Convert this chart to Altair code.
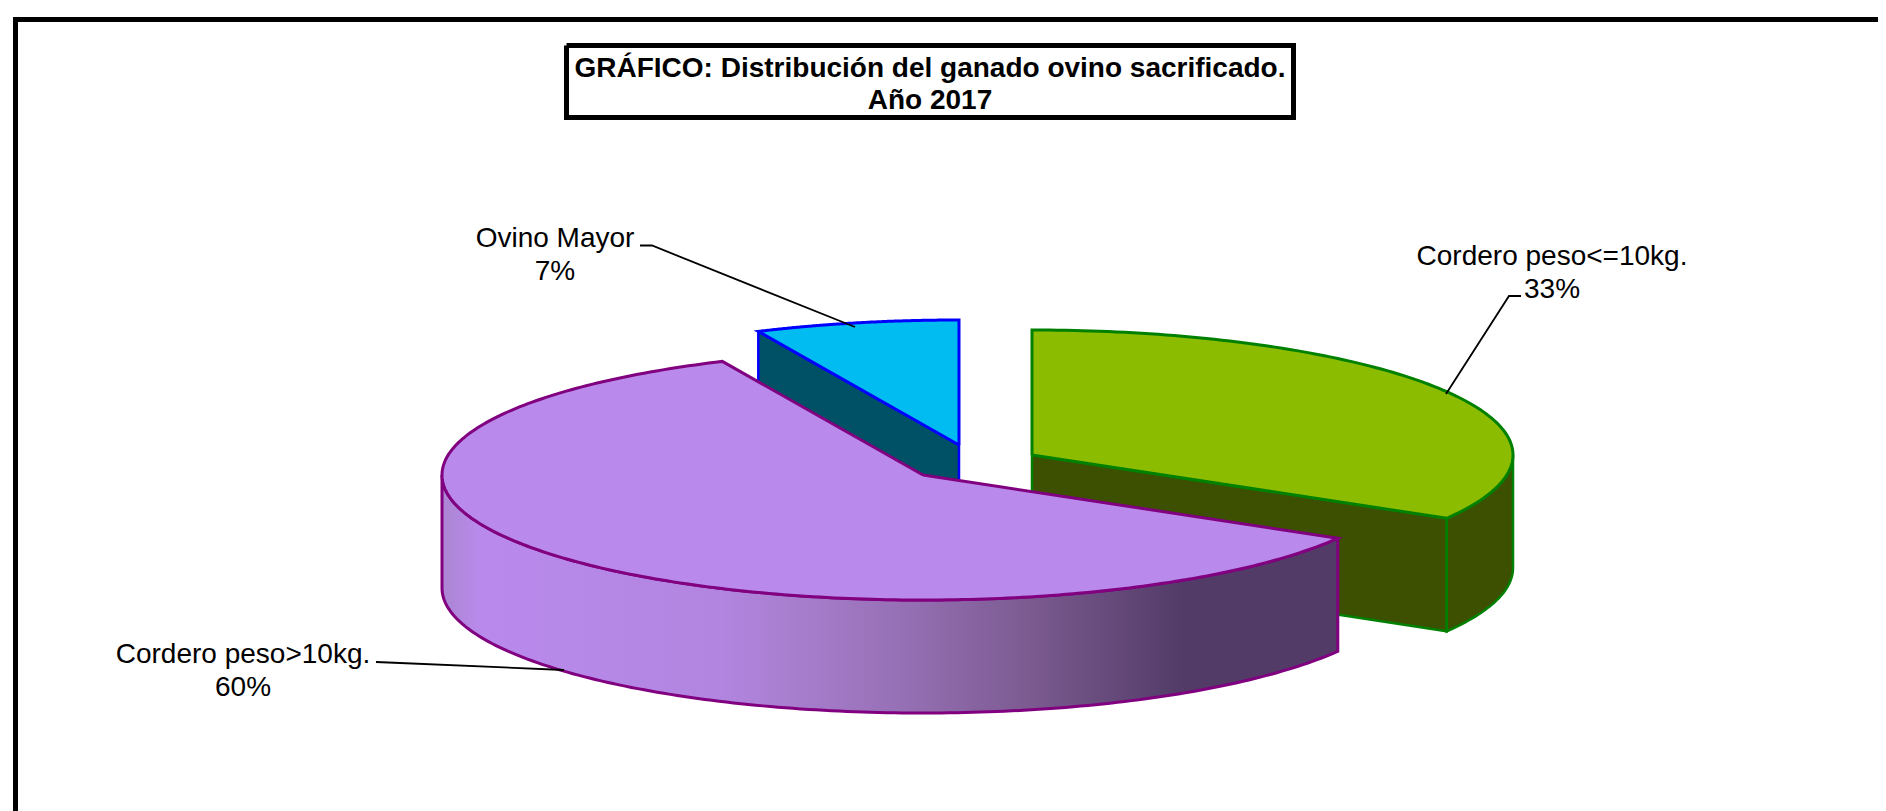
import numpy as np
import pandas as pd
import altair as alt

# ---- chart content ----
categories = ["Cordero peso<=10kg.", "Cordero peso>10kg.", "Ovino Mayor"]
shares = [33.45, 59.7, 6.85]
share_labels = ["33%", "60%", "7%"]
title_lines = ["GRÁFICO: Distribución del ganado ovino sacrificado.", "Año 2017"]

# ---- drawing set-up (page pixels) ----
W, H = 1878, 811
RX, RY, DEPTH = 481, 125, 113
centres = {"green": (1032, 455), "purple": (923, 475), "blue": (959, 445)}
top_col = {"green": "#8CBC00", "purple": "#B98AEC", "blue": "#00BCF0"}
wall_col = {"green": "#3D4F00", "purple": "#523B67", "blue": "#005066"}
line_col = {"green": "#008000", "purple": "#800080", "blue": "#0000FF"}

xs = alt.Scale(domain=[8, W], range=[0, W - 8], nice=False, zero=False)
ys = alt.Scale(domain=[8, H], range=[0, H - 8], nice=False, zero=False)


def shape(px, py, fill, stroke, sw=2.5, closed=True):
    px, py = list(px), list(py)
    if closed:
        px.append(px[0]); py.append(py[0])
    df = pd.DataFrame({"px": px, "py": py, "i": range(len(px))})
    kw = dict(stroke=stroke, strokeWidth=sw, strokeJoin="miter", interpolate="linear")
    if fill is not None:
        kw["fill"] = fill
    return alt.Chart(df).mark_line(**kw).encode(
        x=alt.X("px:Q", scale=xs, axis=None),
        y=alt.Y("py:Q", scale=ys, axis=None),
        order="i:Q",
    )


def arc(cx, cy, a0, a1, n=120):
    t = np.radians(np.linspace(a0, a1, n))
    return cx + RX * np.sin(t), cy - RY * np.cos(t)


def text(rows, size, bold=False):
    df = pd.DataFrame(rows, columns=["t", "px", "py"])
    return alt.Chart(df).mark_text(
        font="Liberation Sans", fontSize=size, fontWeight="bold" if bold else "normal",
        color="black", align="center", baseline="middle",
    ).encode(
        x=alt.X("px:Q", scale=xs, axis=None),
        y=alt.Y("py:Q", scale=ys, axis=None),
        text="t:N",
    )


# slice angles from the shares, clockwise from the top
a_g1 = shares[0] * 3.6
a_p1 = a_g1 + shares[1] * 3.6
layers = []

# frame
layers.append(shape([15.5, 15.5, W + 5], [H + 5, 19.5, 19.5], None, "black", 5, closed=False))
# title box
layers.append(shape([566.5, 1293.5, 1293.5, 566.5], [45.5, 45.5, 117.5, 117.5], "white", "black", 5))
layers.append(text([[title_lines[0], 930, 69], [title_lines[1], 930, 101]], 28, True))

# blue slice
cx, cy = centres["blue"]
ax, ay = arc(cx, cy, a_p1, 360)
layers.append(shape([ax[0], cx, cx, ax[0]], [ay[0], cy, cy + DEPTH, ay[0] + DEPTH],
                    wall_col["blue"], line_col["blue"], 2.5))
layers.append(shape([cx, *ax], [cy, *ay], top_col["blue"], line_col["blue"], 3))

# green slice
cx, cy = centres["green"]
ax, ay = arc(cx, cy, 0, a_g1)
ex, ey = ax[-1], ay[-1]
layers.append(shape([cx, ex, ex, cx], [cy, ey, ey + DEPTH, cy + DEPTH],
                    wall_col["green"], line_col["green"], 2.5))
wx, wy = arc(cx, cy, 90, a_g1, 40)
layers.append(shape([*wx, *wx[::-1]], [*wy, *(wy[::-1] + DEPTH)],
                    wall_col["green"], line_col["green"], 2.5))
layers.append(shape([cx, *ax], [cy, *ay], top_col["green"], line_col["green"], 3))

# purple slice
cx, cy = centres["purple"]
wx, wy = arc(cx, cy, a_g1, 270, 160)
grad_stops = [(441, "#AB85D2"), (480, "#B98AEC"), (720, "#B285E0"), (800, "#A67DCC"),
              (900, "#9670B5"), (1026, "#7C5B91"), (1183, "#523B67"), (1337, "#523B67")]
gradient = alt.Gradient(
    gradient="linear", x1=0, x2=1, y1=0, y2=0,
    stops=[alt.GradientStop(offset=float((g - 441) / (1337 - 441)), color=c) for g, c in grad_stops],
)
layers.append(shape([*wx, *wx[::-1]], [*wy, *(wy[::-1] + DEPTH)], gradient, line_col["purple"], 3))
ax, ay = arc(cx, cy, a_g1, a_p1, 240)
layers.append(shape([cx, *ax], [cy, *ay], top_col["purple"], line_col["purple"], 3))

# leader lines
layers.append(shape([640, 652, 855], [245.5, 245.5, 327], None, "black", 1.8, closed=False))
layers.append(shape([1521, 1509, 1446], [296, 296, 394], None, "black", 1.8, closed=False))
layers.append(shape([376, 400, 564], [662, 663, 670], None, "black", 1.8, closed=False))

# labels
layers.append(text([
    [categories[2], 555, 238.5], [share_labels[2], 555, 271.5],
    [categories[0], 1552, 256.5], [share_labels[0], 1552, 289.5],
    [categories[1], 243, 654.5], [share_labels[1], 243, 687.5],
], 28))

chart = alt.layer(*layers).properties(
    width=W - 8, height=H - 8, padding=0, background="white",
    autosize=alt.AutoSizeParams(type="none"),
).configure_view(stroke=None)

chart.save("out.html", embed_options={"renderer": "svg", "actions": False})
